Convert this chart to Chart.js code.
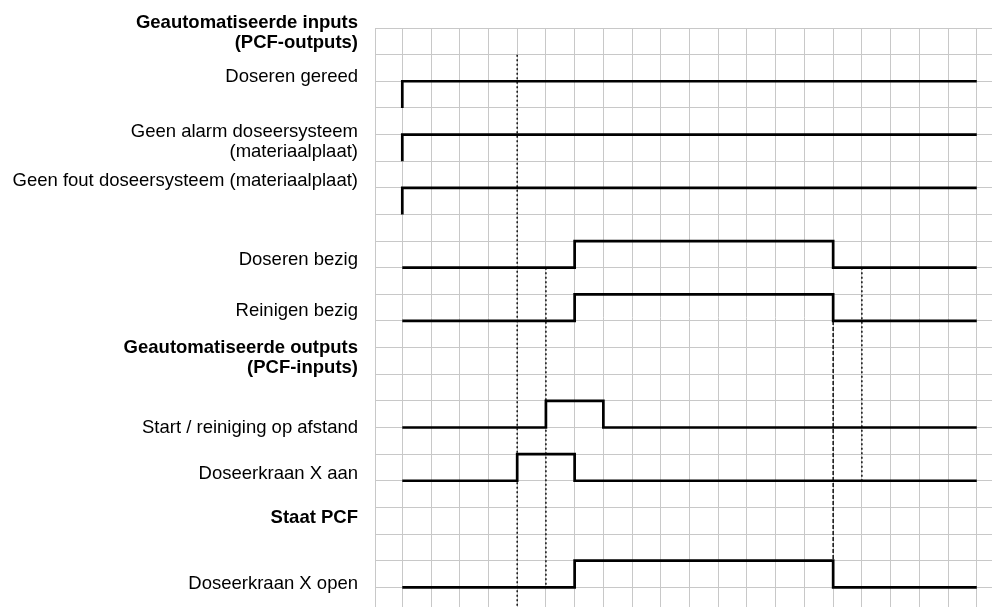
<!DOCTYPE html>
<html>
<head>
<meta charset="utf-8">
<script src="https://cdn.jsdelivr.net/npm/chart.js@4/dist/chart.umd.min.js"></script>
<style>
  html, body { margin: 0; padding: 0; background: #fff; overflow: hidden; }
  #wrap { width: 992px; height: 607px; }
</style>
</head>
<body>
<div id="wrap"><canvas id="chart" width="992" height="607"></canvas></div>
<script>
// signals: name, grid row of the low level, toggle times (all start low)
const signalNames = ['Doseren gereed', 'Geen alarm doseersysteem', 'Geen fout doseersysteem',
  'Doseren bezig', 'Reinigen bezig', 'Start / reiniging op afstand', 'Doseerkraan X aan', 'Doseerkraan X open'];
const signalRows = [18, 16, 14, 12, 10, 6, 4, 0];
const signalEdges = [[0], [0], [0], [6, 15], [6, 15], [5, 7], [4, 6], [6, 15]];
const endTime = 20;

// dotted time markers: time, from row, to row
const markerTimes = [4, 5, 15, 16];
const markerFrom = [20, 12, 10, 12];
const markerTo = [-1, 0, 1, 4];

// labels on the left, with the row value they sit at
const rowLabels = [
  ['Geautomatiseerde inputs', '(PCF-outputs)'],
  'Doseren gereed',
  ['Geen alarm doseersysteem', '(materiaalplaat)'],
  'Geen fout doseersysteem (materiaalplaat)',
  'Doseren bezig',
  'Reinigen bezig',
  ['Geautomatiseerde outputs', '(PCF-inputs)'],
  'Start / reiniging op afstand',
  'Doseerkraan X aan',
  'Staat PCF',
  'Doseerkraan X open'
];
const rowLabelValues = [20.82, 19.15, 16.74, 15.26, 12.3, 10.37, 8.62, 5.98, 4.26, 2.6, 0.13];
const rowLabelBold = [true, false, false, false, false, false, true, false, false, true, false];

const FONT = "'Liberation Sans', Arial, Helvetica, sans-serif";

function signalPoints(row, edges) {
    let level = 0;
    const pts = [{ x: 0, y: row }];
    edges.forEach(t => {
        level = 1 - level;
        pts.push({ x: t, y: row + level });
    });
    pts.push({ x: endTime, y: row + level });
    return pts;
}

const datasets = [];
signalNames.forEach((name, i) => {
    datasets.push({
        label: name,
        data: signalPoints(signalRows[i], signalEdges[i]),
        stepped: 'before',
        borderColor: '#000',
        borderWidth: 2.7,
        pointRadius: 0,
        fill: false
    });
});
markerTimes.forEach((t, i) => {
    datasets.push({
        label: 'marker' + i,
        data: [{ x: t, y: markerFrom[i] }, { x: t, y: markerTo[i] }],
        borderColor: '#111',
        borderWidth: 1.5,
        borderDash: t === 15 ? [4, 2] : [2, 2.5],
        pointRadius: 0,
        fill: false
    });
});

const gridColor = '#c8c8c8';

new Chart(document.getElementById('chart'), {
    type: 'line',
    data: { datasets: datasets },
    options: {
        responsive: false,
        animation: false,
        layout: { padding: { top: 28, right: 0, bottom: 0, left: 0 } },
        plugins: { legend: { display: false }, tooltip: { enabled: false } },
        scales: {
            x: {
                type: 'linear',
                min: -0.95,
                max: 20.53,
                afterBuildTicks: scale => {
                    const t = [];
                    for (let i = 0; i <= endTime; i++) t.push({ value: i });
                    scale.ticks = t;
                },
                afterFit: scale => {
                    scale.height = 0;
                    scale.paddingLeft = 0;
                    scale.paddingRight = 0;
                },
                ticks: { display: false },
                grid: { color: gridColor, lineWidth: 1, drawTicks: false },
                border: { display: false }
            },
            y: {
                type: 'linear',
                min: -0.74,
                max: 21,
                afterBuildTicks: scale => {
                    const vals = [];
                    for (let i = 0; i <= 21; i++) vals.push(i);
                    rowLabelValues.forEach(v => vals.push(v));
                    vals.sort((a, b) => a - b);
                    scale.ticks = vals.map(v => ({ value: v }));
                },
                afterFit: scale => {
                    scale.width = 375;
                    scale.paddingTop = 0;
                    scale.paddingBottom = 0;
                },
                grid: {
                    drawTicks: false,
                    lineWidth: 1,
                    color: ctx => (ctx.tick && Number.isInteger(ctx.tick.value)) ? gridColor : 'rgba(0,0,0,0)'
                },
                border: { display: true, color: gridColor, width: 1 },
                ticks: {
                    autoSkip: false,
                    padding: 17,
                    color: '#000',
                    font: ctx => {
                        const idx = ctx.tick ? rowLabelValues.indexOf(ctx.tick.value) : -1;
                        return { family: FONT, size: 18.5, lineHeight: 1.08, weight: (idx >= 0 && rowLabelBold[idx]) ? 'bold' : 'normal' };
                    },
                    callback: value => {
                        const idx = rowLabelValues.indexOf(value);
                        return idx >= 0 ? rowLabels[idx] : '';
                    }
                }
            }
        }
    }
});
</script>
</body>
</html>
